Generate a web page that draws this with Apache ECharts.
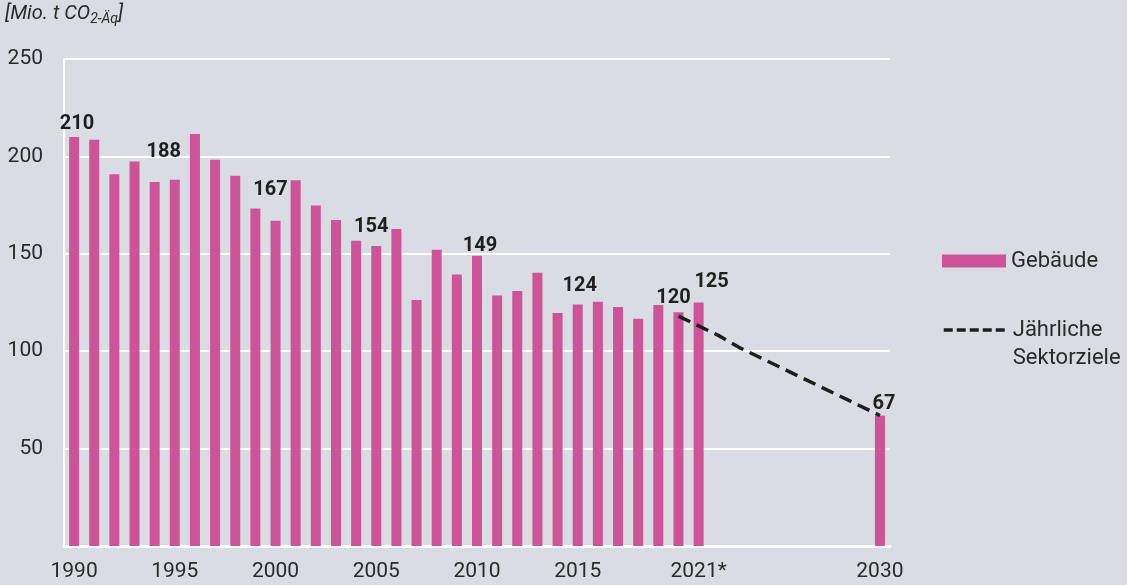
<!DOCTYPE html>
<html>
<head>
<meta charset="utf-8">
<script src="https://cdn.jsdelivr.net/npm/echarts@6/dist/echarts.min.js"></script>
<style>
  html, body { margin: 0; padding: 0; background: #d9dce2; }
  #chart { width: 1127px; height: 585px; }
</style>
</head>
<body>
<div id="chart"></div>
<script>
// Jahre (Kategorien)
var years = ['1990', '1991', '1992', '1993', '1994', '1995', '1996', '1997', '1998', '1999',
  '2000', '2001', '2002', '2003', '2004', '2005', '2006', '2007', '2008', '2009',
  '2010', '2011', '2012', '2013', '2014', '2015', '2016', '2017', '2018', '2019',
  '2020', '2021', '2022', '2023', '2024', '2025', '2026', '2027', '2028', '2029', '2030'];

// Emissionen Gebäude [Mio. t CO2-Äq]
var emissions = [210, 208.6, 190.8, 197.4, 186.9, 188, 211.5, 198.3, 190.1, 173.3,
  167, 187.7, 174.8, 167.3, 156.7, 154, 162.7, 126.3, 152.1, 139.4,
  149, 128.6, 130.9, 140.3, 119.6, 124, 125.4, 122.7, 116.7, 123.7,
  120, 125, null, null, null, null, null, null, null, null, 67];

// Jährliche Sektorziele
var targets = [null, null, null, null, null, null, null, null, null, null,
  null, null, null, null, null, null, null, null, null, null,
  null, null, null, null, null, null, null, null, null, null,
  118, 113, 108, 102, 97, 92, 87, 82, 77, 72, 67];

// beschriftete Balken
var labelledYears = ['1990', '1995', '2000', '2005', '2010', '2015', '2020', '2021', '2030'];

// Achsenbeschriftungen x
var tickYears = ['1990', '1995', '2000', '2005', '2010', '2015', '2021', '2030'];
var tickText = { '2021': '2021*' };

// Verschiebung der Wertebeschriftungen [dx, dy]
var labelOffsets = {
  '1990': [3, 2], '1995': [-11, -13], '2000': [-5, -16], '2005': [-5, -4],
  '2010': [3, 5], '2015': [2, -3], '2020': [-5, 1], '2021': [13, -6], '2030': [4, 4]
};

var FONT = 'Roboto';
var TEXT = '#2a2a2a';

var barData = emissions.map(function (v, i) {
  var y = years[i];
  if (v !== null && labelledYears.indexOf(y) >= 0) {
    return { value: v, label: { show: true, offset: labelOffsets[y] } };
  }
  return v;
});

var chart = echarts.init(document.getElementById('chart'));

var option = {
  backgroundColor: '#d9dce2',
  animation: false,
  textStyle: { fontFamily: FONT },
  title: {
    left: 5,
    top: 1,
    padding: 0,
    text: '{m|[Mio. t CO}{s|2-Äq}{m|]}',
    textStyle: {
      fontWeight: 'normal',
      fontSize: 20,
      rich: {
        m: { fontFamily: FONT, fontSize: 20, fontWeight: 'normal', fontStyle: 'italic', color: TEXT, lineHeight: 26 },
        s: { fontFamily: FONT, fontSize: 14, fontWeight: 'normal', fontStyle: 'italic', color: TEXT, lineHeight: 16, padding: [10, 0, 0, 0] }
      }
    }
  },
  legend: [
    {
      left: 942,
      top: 249,
      padding: 0,
      itemWidth: 64,
      itemHeight: 13,
      data: [{ name: 'Gebäude', icon: 'rect' }],
      textStyle: { fontFamily: FONT, fontSize: 22, color: TEXT, lineHeight: 24 }
    },
    {
      left: 942,
      top: 288,
      padding: 0,
      itemWidth: 64,
      itemHeight: 13,
      data: [{
        name: 'Jährliche Sektorziele',
        itemStyle: { opacity: 0 },
        lineStyle: { type: [9, 4], width: 3.5, color: '#1e1e1e' }
      }],
      // leere erste Zeile, damit das Symbol auf Höhe der ersten Textzeile sitzt
      formatter: function () { return ' \nJährliche\nSektorziele'; },
      textStyle: { fontFamily: FONT, fontSize: 22, color: TEXT, lineHeight: 28 }
    }
  ],
  grid: {
    left: 64,
    right: 237,
    top: 59,
    bottom: 39
  },
  xAxis: {
    type: 'category',
    data: years,
    axisLine: { show: true, lineStyle: { color: '#ffffff', width: 3 } },
    axisTick: { show: false },
    axisLabel: {
      interval: function (idx, val) { return tickYears.indexOf(val) >= 0; },
      formatter: function (val) { return tickText[val] || val; },
      fontFamily: FONT,
      fontSize: 21,
      color: TEXT,
      margin: 15
    }
  },
  yAxis: {
    type: 'value',
    min: 0,
    max: 250,
    interval: 50,
    axisLine: { show: true, lineStyle: { color: '#ffffff', width: 2 } },
    axisTick: { show: false },
    splitLine: { lineStyle: { color: '#ffffff', width: 2 } },
    axisLabel: {
      showMinLabel: false,
      formatter: function (v) { return v === 0 ? '' : v; },
      fontFamily: FONT,
      fontSize: 21,
      color: TEXT,
      margin: 21
    }
  },
  series: [
    {
      name: 'Gebäude',
      type: 'bar',
      data: barData,
      barWidth: 10,
      itemStyle: { color: '#cd5499' },
      label: {
        show: false,
        position: 'top',
        distance: 5,
        fontFamily: FONT,
        fontSize: 20,
        fontWeight: 'bold',
        color: '#1f1f1f'
      },
      z: 2
    },
    {
      name: 'Jährliche Sektorziele',
      type: 'line',
      data: targets,
      symbol: 'none',
      connectNulls: true,
      itemStyle: { color: '#1e1e1e' },
      lineStyle: { type: [13, 7], width: 3.5, color: '#1e1e1e' },
      z: 3
    }
  ]
};

chart.setOption(option);
</script>
</body>
</html>
